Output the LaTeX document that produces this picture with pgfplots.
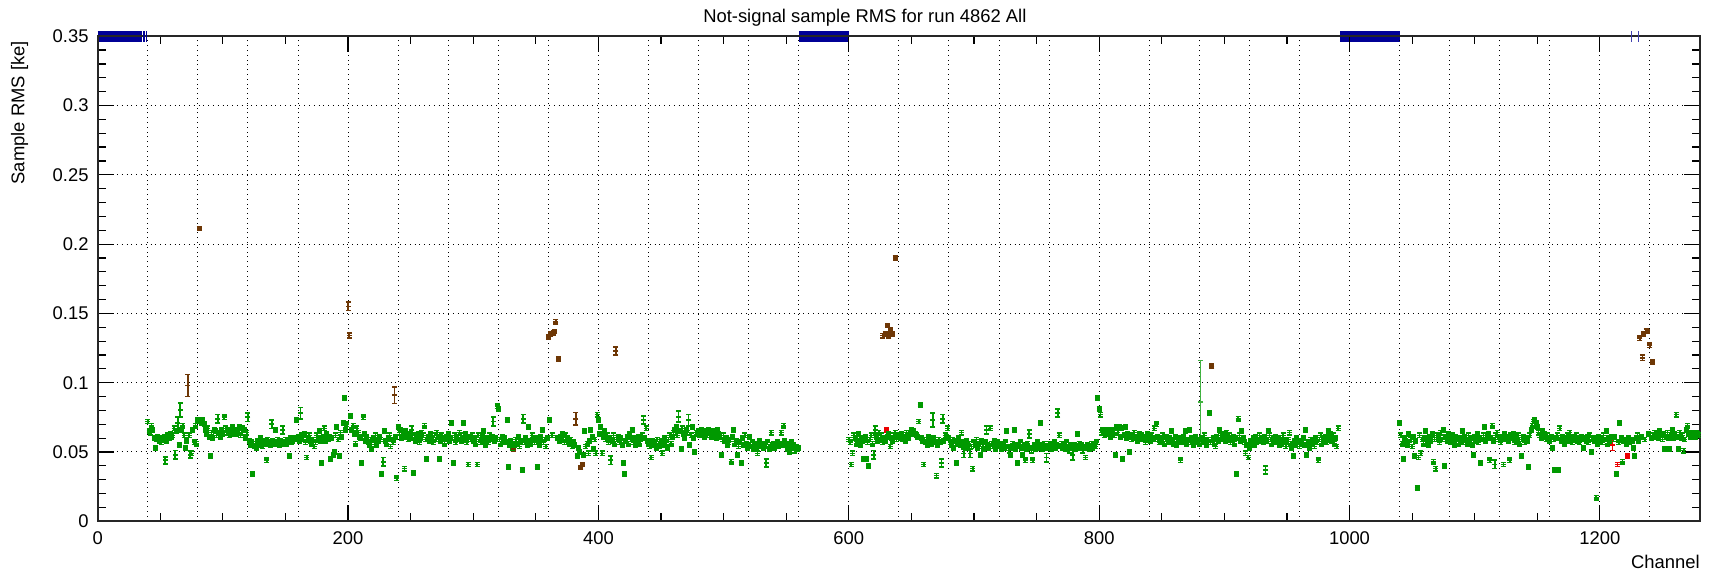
\documentclass[border=0pt]{standalone}
\usepackage{pgfplots}
\pgfplotsset{compat=1.18}
\usepackage{pgfplotstable}
\usetikzlibrary{plotmarks}
\usepackage{fontspec}
\setmainfont{Liberation Sans}

\definecolor{rootgreen}{RGB}{0,153,0}
\definecolor{rootbrown}{RGB}{110,55,5}
\definecolor{rootblue}{RGB}{0,0,150}
\definecolor{rootred}{RGB}{235,0,0}

% ROOT-like point: small error bar with end caps and centre tick, drawn as one mark
\pgfdeclareplotmark{rootI}{%
  \pgfpathmoveto{\pgfqpoint{0pt}{-1.05pt}}\pgfpathlineto{\pgfqpoint{0pt}{1.05pt}}%
  \pgfpathmoveto{\pgfqpoint{-1.25pt}{-1.05pt}}\pgfpathlineto{\pgfqpoint{1.25pt}{-1.05pt}}%
  \pgfpathmoveto{\pgfqpoint{-1.25pt}{1.05pt}}\pgfpathlineto{\pgfqpoint{1.25pt}{1.05pt}}%
  \pgfpathmoveto{\pgfqpoint{-1.25pt}{0pt}}\pgfpathlineto{\pgfqpoint{1.25pt}{0pt}}%
  \pgfusepathqstroke}
% flagged channel drawn at the top edge
\pgfdeclareplotmark{vbar}{%
  \pgfpathmoveto{\pgfqpoint{0pt}{-2.7pt}}\pgfpathlineto{\pgfqpoint{0pt}{2.7pt}}%
  \pgfusepathqstroke}

% sample RMS per channel, channels 40..560
\pgfplotstableread[row sep=\\, header=false]{
0.072\\0.065\\0.064\\0.069\\0.066\\0.060\\0.053\\0.059\\0.061\\0.058\\
0.060\\0.057\\0.059\\0.061\\nan\\0.058\\0.062\\0.060\\0.063\\0.061\\
0.062\\0.067\\nan\\0.065\\nan\\0.055\\nan\\0.066\\0.069\\0.062\\
0.053\\0.058\\nan\\0.062\\nan\\0.049\\0.066\\0.057\\0.069\\0.056\\
0.073\\nan\\0.072\\0.071\\0.073\\0.070\\0.066\\0.063\\0.067\\0.061\\
0.047\\0.064\\0.060\\0.066\\0.065\\0.062\\nan\\0.064\\0.061\\0.066\\
0.063\\0.075\\0.067\\0.064\\0.066\\0.062\\0.065\\0.063\\0.068\\0.064\\
0.066\\0.063\\0.065\\0.068\\0.062\\0.064\\0.067\\0.066\\0.060\\0.064\\
nan\\0.058\\0.055\\0.057\\0.034\\0.054\\0.056\\0.053\\0.058\\0.055\\
0.060\\0.057\\0.054\\0.058\\0.056\\0.044\\0.059\\0.057\\0.055\\nan\\
0.058\\0.056\\0.066\\0.057\\0.059\\0.055\\0.058\\0.056\\nan\\0.057\\
0.059\\0.056\\0.058\\0.047\\0.060\\0.057\\0.058\\0.060\\0.059\\0.073\\
0.061\\0.058\\nan\\0.062\\0.059\\0.063\\0.057\\0.046\\0.060\\0.062\\
0.058\\0.056\\0.059\\0.054\\0.057\\0.062\\0.060\\0.065\\0.058\\0.042\\
0.061\\0.067\\0.058\\0.063\\0.059\\0.061\\0.045\\0.060\\0.048\\0.050\\
0.062\\0.068\\0.059\\0.047\\0.064\\0.061\\0.071\\0.089\\0.066\\0.070\\
nan\\nan\\0.076\\0.066\\0.069\\0.063\\0.056\\0.067\\0.064\\0.061\\
0.060\\0.042\\0.075\\0.063\\0.058\\0.061\\0.057\\0.055\\0.059\\0.052\\
0.060\\0.057\\0.062\\0.055\\0.058\\0.061\\0.059\\0.034\\nan\\0.065\\
0.058\\0.056\\0.060\\0.062\\0.054\\0.059\\0.057\\nan\\0.061\\0.031\\
0.068\\0.064\\0.066\\0.060\\0.062\\0.038\\0.065\\0.061\\0.059\\0.063\\
0.060\\nan\\0.035\\0.062\\0.058\\0.061\\0.063\\0.057\\0.060\\0.064\\
0.062\\0.069\\0.059\\0.045\\0.061\\0.058\\0.063\\0.060\\0.057\\0.062\\
0.059\\0.064\\0.061\\0.045\\0.058\\0.062\\0.060\\0.056\\0.059\\0.061\\
0.063\\0.058\\0.060\\0.071\\0.042\\0.062\\0.057\\0.061\\0.059\\0.064\\
0.062\\0.058\\0.071\\0.060\\0.063\\0.057\\0.041\\0.061\\0.059\\0.062\\
0.058\\0.060\\0.056\\0.041\\0.062\\0.059\\0.057\\0.061\\0.065\\0.058\\
0.055\\0.060\\0.057\\0.062\\0.059\\0.061\\nan\\0.058\\0.060\\0.083\\
0.081\\0.059\\0.056\\0.061\\0.058\\0.060\\0.057\\0.073\\0.039\\0.055\\
0.058\\0.053\\nan\\0.055\\0.059\\0.056\\0.061\\0.054\\0.058\\0.037\\
nan\\0.057\\0.060\\0.055\\0.068\\0.058\\0.056\\0.062\\0.059\\0.057\\
0.060\\0.039\\0.058\\0.055\\0.061\\0.066\\0.057\\0.059\\0.054\\0.060\\
nan\\0.073\\nan\\0.062\\nan\\nan\\nan\\0.060\\nan\\0.058\\
0.061\\0.063\\0.059\\0.057\\0.062\\0.060\\0.058\\0.056\\0.059\\0.054\\
0.057\\0.055\\nan\\0.047\\0.053\\0.050\\nan\\nan\\0.048\\0.065\\
0.054\\0.056\\0.049\\0.058\\0.066\\0.061\\0.052\\0.059\\0.049\\0.077\\
0.073\\0.063\\0.068\\0.049\\0.061\\0.065\\0.059\\0.062\\0.057\\0.060\\
nan\\0.058\\0.062\\0.056\\nan\\0.059\\0.061\\0.057\\0.060\\0.055\\
0.042\\0.034\\0.058\\0.061\\0.056\\0.063\\0.059\\0.066\\0.057\\0.060\\
0.055\\0.058\\0.061\\0.056\\0.059\\0.062\\nan\\0.060\\0.067\\0.058\\
0.056\\0.054\\0.046\\0.058\\0.055\\0.057\\0.053\\0.059\\0.056\\0.054\\
0.058\\0.049\\0.055\\0.060\\0.057\\0.053\\0.059\\0.062\\0.056\\0.061\\
0.064\\0.066\\0.068\\0.062\\nan\\0.065\\0.052\\0.067\\0.063\\0.060\\
0.066\\0.064\\nan\\0.055\\0.062\\0.068\\0.060\\0.050\\0.064\\0.063\\
0.065\\0.062\\0.066\\0.063\\0.064\\0.061\\0.065\\0.062\\0.066\\0.064\\
0.061\\0.063\\0.065\\0.062\\0.060\\0.066\\0.063\\0.061\\0.048\\0.059\\
0.062\\0.058\\0.060\\0.055\\0.057\\0.059\\0.043\\0.061\\0.066\\0.056\\
0.058\\0.048\\0.054\\0.057\\0.042\\0.060\\0.055\\0.062\\0.056\\0.053\\
0.055\\0.061\\0.054\\0.057\\0.052\\0.056\\0.053\\0.049\\0.055\\0.058\\
0.054\\0.056\\0.053\\0.055\\nan\\0.057\\0.054\\0.052\\0.064\\0.055\\
0.056\\0.053\\0.055\\0.057\\0.054\\0.056\\0.064\\0.055\\0.069\\0.058\\
0.056\\0.052\\0.055\\0.050\\0.057\\0.053\\0.055\\0.051\\0.054\\0.052\\
0.053\\}\segA

% channels 600..991
\pgfplotstableread[row sep=\\, header=false]{
0.059\\0.057\\0.041\\0.049\\0.062\\0.060\\0.056\\0.058\\0.063\\0.055\\
0.060\\0.058\\0.045\\0.061\\0.045\\0.057\\0.040\\0.059\\0.062\\0.056\\
nan\\nan\\0.061\\0.058\\0.064\\0.059\\0.062\\0.057\\0.060\\0.058\\
nan\\0.061\\0.063\\0.054\\0.060\\0.058\\0.062\\0.064\\0.059\\0.061\\
0.062\\0.060\\0.063\\0.059\\0.061\\0.058\\0.064\\0.062\\0.060\\0.063\\
0.066\\0.064\\0.065\\0.063\\0.062\\0.061\\0.072\\0.084\\0.060\\0.058\\
0.041\\0.057\\0.059\\0.055\\0.061\\0.058\\0.056\\nan\\0.060\\0.057\\
0.033\\0.055\\0.059\\0.057\\nan\\nan\\0.058\\0.062\\0.061\\0.067\\
0.060\\0.057\\0.055\\0.059\\0.053\\0.058\\0.042\\0.056\\0.060\\0.055\\
0.064\\0.057\\nan\\0.055\\0.058\\0.053\\0.056\\nan\\0.054\\0.038\\
0.057\\0.055\\0.059\\0.053\\0.056\\0.048\\0.058\\0.054\\0.052\\0.057\\
nan\\0.055\\0.053\\0.067\\0.056\\0.054\\0.058\\0.052\\0.055\\0.057\\
0.054\\0.056\\0.052\\0.055\\0.053\\0.057\\0.065\\0.054\\0.051\\0.048\\
0.053\\0.056\\0.066\\0.052\\0.055\\0.042\\0.054\\0.057\\0.053\\0.048\\
0.055\\0.044\\0.052\\0.056\\nan\\0.053\\0.051\\0.044\\0.055\\0.052\\
0.054\\0.057\\0.053\\0.071\\0.055\\0.052\\0.056\\0.054\\nan\\0.053\\
0.056\\0.054\\0.052\\0.055\\0.057\\0.053\\0.055\\nan\\0.062\\0.054\\
0.056\\0.053\\0.055\\0.052\\0.057\\0.054\\0.051\\0.055\\0.053\\nan\\
0.055\\0.052\\0.054\\0.063\\0.056\\0.053\\0.055\\0.051\\0.054\\0.046\\
0.053\\0.055\\0.052\\0.054\\0.056\\0.053\\0.055\\0.054\\0.057\\0.089\\
0.081\\0.077\\0.064\\0.066\\0.062\\0.065\\0.063\\0.066\\0.064\\0.061\\
0.063\\0.066\\0.062\\0.048\\0.068\\0.064\\0.068\\0.061\\0.067\\0.045\\
0.062\\0.068\\0.060\\0.063\\0.050\\0.061\\0.059\\0.062\\0.064\\0.060\\
0.061\\0.058\\0.063\\0.060\\0.062\\0.059\\0.061\\0.057\\0.060\\0.063\\
0.061\\0.058\\0.062\\0.060\\0.067\\0.059\\0.070\\0.061\\0.057\\0.060\\
0.058\\0.062\\0.056\\0.059\\0.061\\0.057\\0.060\\0.058\\0.065\\0.056\\
0.059\\0.061\\0.055\\0.058\\0.060\\0.044\\0.057\\0.061\\0.058\\0.065\\
0.056\\0.059\\0.066\\0.057\\0.060\\0.055\\0.058\\0.061\\0.057\\0.059\\
0.056\\nan\\0.060\\0.057\\0.062\\0.058\\0.055\\0.059\\0.078\\0.057\\
nan\\0.060\\0.056\\0.054\\0.061\\0.058\\0.066\\0.062\\0.059\\0.063\\
0.061\\0.058\\0.064\\0.060\\0.062\\0.057\\0.059\\0.061\\0.056\\0.060\\
0.034\\0.074\\0.062\\0.058\\0.065\\0.060\\0.057\\0.049\\0.055\\0.046\\
0.053\\0.058\\0.056\\0.060\\0.055\\0.061\\0.057\\0.059\\0.062\\0.058\\
0.060\\0.057\\0.061\\nan\\0.058\\0.065\\0.062\\0.059\\0.056\\0.060\\
0.058\\0.061\\0.057\\0.060\\0.055\\0.059\\0.056\\0.062\\0.058\\0.054\\
0.057\\0.059\\0.064\\0.056\\0.053\\0.047\\0.058\\0.055\\0.060\\0.057\\
0.054\\0.058\\0.056\\0.060\\0.055\\0.066\\0.048\\0.057\\0.053\\0.059\\
0.056\\0.058\\0.054\\0.060\\0.057\\0.044\\0.059\\0.062\\0.056\\0.060\\
0.058\\0.061\\0.057\\0.065\\0.060\\0.063\\0.058\\0.062\\0.056\\0.060\\
0.054\\0.067\\}\segB

% channels 1040..1279
\pgfplotstableread[row sep=\\, header=false]{
0.071\\0.062\\0.056\\0.045\\0.060\\0.058\\0.055\\0.063\\0.057\\0.059\\
0.054\\0.061\\0.047\\0.058\\0.024\\0.046\\0.062\\0.049\\0.059\\0.056\\
0.060\\0.065\\0.057\\0.055\\0.061\\0.058\\0.063\\0.043\\0.059\\0.038\\
0.062\\0.060\\0.057\\0.064\\0.059\\0.066\\0.040\\0.061\\0.058\\0.063\\
0.060\\0.057\\0.062\\0.058\\0.055\\0.061\\0.059\\0.056\\0.060\\0.058\\
0.065\\0.057\\0.061\\0.059\\0.056\\0.062\\0.058\\0.060\\0.055\\0.048\\
0.061\\0.058\\0.063\\0.057\\0.060\\0.042\\0.059\\0.062\\0.068\\0.058\\
0.061\\0.063\\0.044\\0.060\\0.069\\0.058\\nan\\0.062\\0.064\\0.059\\
0.061\\0.057\\0.060\\0.041\\0.063\\0.059\\0.061\\0.058\\0.044\\0.062\\
0.060\\0.063\\0.057\\0.061\\0.058\\0.062\\0.056\\0.047\\0.059\\0.061\\
0.057\\0.060\\0.058\\0.039\\0.062\\0.066\\0.069\\0.072\\0.073\\0.071\\
0.068\\0.064\\0.062\\0.060\\0.065\\0.061\\0.063\\0.059\\0.062\\0.060\\
0.058\\0.061\\0.053\\0.059\\0.037\\0.060\\0.062\\0.037\\0.067\\0.058\\
0.061\\0.059\\0.056\\0.060\\0.062\\0.058\\0.064\\0.060\\0.057\\0.061\\
0.059\\0.062\\0.058\\0.060\\0.057\\0.061\\0.059\\0.053\\0.060\\0.058\\
0.061\\0.057\\0.062\\0.050\\0.059\\0.060\\0.058\\0.017\\0.056\\0.061\\
0.058\\0.060\\0.057\\0.062\\0.059\\0.065\\0.056\\0.060\\0.058\\0.061\\
nan\\0.059\\0.061\\0.034\\nan\\0.057\\0.071\\0.060\\0.043\\0.058\\
0.059\\0.056\\nan\\0.060\\0.057\\0.059\\0.058\\0.053\\0.047\\0.060\\
0.062\\0.058\\nan\\0.061\\nan\\nan\\0.059\\nan\\nan\\0.063\\
nan\\0.060\\nan\\0.062\\0.064\\0.061\\0.063\\0.060\\0.065\\0.062\\
0.059\\0.063\\0.052\\0.061\\0.064\\0.060\\0.052\\0.062\\0.066\\0.060\\
0.063\\0.077\\0.061\\0.052\\0.064\\0.060\\0.062\\0.051\\0.059\\0.066\\
0.069\\0.063\\0.061\\0.064\\0.062\\0.063\\0.061\\0.064\\0.063\\0.062\\
}\segC

\pgfplotsset{
  rootpts/.style={only marks, mark=rootI, mark options={line width=0.85pt}},
  rooterr/.style={only marks, mark=-, mark size=1.25pt, mark options={line width=0.85pt},
    error bars/.cd, y dir=both, y explicit, error mark=-,
    error mark options={rotate=90, mark size=1.25pt, line width=0.85pt},
    error bar style={line width=0.85pt}},
}

\begin{document}
\begin{tikzpicture}[font=\fontsize{9.2pt}{11pt}\selectfont]
\begin{axis}[
  at={(0,0)}, anchor=south west,
  scale only axis, width=801pt, height=242.5pt,
  set layers, clip=false,
  xmin=0, xmax=1280, ymin=0, ymax=0.35,
  xtick={0,200,400,600,800,1000,1200},
  xticklabels={0,200,400,600,800,1000,1200},
  minor x tick num=3,
  ytick={0,0.05,0.1,0.15,0.2,0.25,0.3,0.35},
  yticklabels={0,0.05,0.1,0.15,0.2,0.25,0.3,0.35},
  minor y tick num=4,
  tick align=inside,
  major tick length=8pt, minor tick length=4pt,
  ymajorgrids,
  extra x ticks={40,80,...,1240},
  extra x tick labels={},
  extra x tick style={grid=major, major tick length=0pt},
  grid style={black, dotted, line width=0.5pt},
  axis line style={black!85, line width=0.9pt},
  tick style={black, line width=0.6pt},
  tick label style={font=\fontsize{9.2pt}{11pt}\selectfont},
  xticklabel style={inner sep=0pt, anchor=north, yshift=-5.2pt},
  yticklabel style={inner sep=0pt, anchor=east, xshift=-4.4pt},
]
% flagged channels at the top edge
\addplot[on layer=axis background, rootblue, line width=5.4pt, line cap=butt] coordinates {(0,0.35) (35.5,0.35)};
\addplot[on layer=axis background, rootblue, line width=5.4pt, line cap=butt] coordinates {(560.5,0.35) (600.5,0.35)};
\addplot[on layer=axis background, rootblue, line width=5.4pt, line cap=butt] coordinates {(992.5,0.35) (1040.5,0.35)};
\addplot[on layer=axis background, rootblue, only marks, mark=vbar, mark options={line width=0.9pt}]
  coordinates {(37,0.35) (39,0.35)};
\addplot[on layer=axis background, rootblue!75!white, only marks, mark=vbar, mark options={line width=0.6pt}]
  coordinates {(1225,0.35) (1231,0.35)};

% good channels
\addplot[rootgreen, rootpts] table[x expr=\coordindex+40, y index=0] {\segA};
\addplot[rootgreen, rootpts] table[x expr=\coordindex+600, y index=0] {\segB};
\addplot[rootgreen, rootpts] table[x expr=\coordindex+1040, y index=0] {\segC};
\addplot[rootgreen, rooterr] table[x=x, y=y, y error=e] {
x y e
54 0.044 0.0025
62 0.048 0.003
64 0.071 0.004
66 0.0805 0.005
74 0.048 0.0025
96 0.074 0.003
120 0.075 0.003
139 0.070 0.003
148 0.066 0.003
162 0.078 0.004
228 0.043 0.003
251 0.066 0.003
316 0.072 0.003
340 0.074 0.003
410 0.044 0.003
436 0.073 0.003
464 0.0755 0.004
472 0.073 0.004
534 0.042 0.003
620 0.048 0.003
621 0.066 0.003
667 0.073 0.005
674 0.042 0.003
675 0.074 0.003
692 0.049 0.003
697 0.049 0.003
710 0.066 0.003
744 0.063 0.003
758 0.046 0.003
767 0.078 0.003
779 0.048 0.004
933 0.037 0.003
1116 0.041 0.003
};
\addplot[rootgreen!75!white, rooterr, error bar style={line width=0.6pt}] table[x=x, y=y, y error=e] {
x y e
881 0.086 0.030
};

% noisy channels
\addplot[rootbrown, rooterr] table[x=x, y=y, y error=e] {
x y e
72 0.098 0.008
81 0.211 0.0012
200 0.155 0.003
201 0.134 0.002
237 0.091 0.006
332 0.052 0.0012
360 0.133 0.0015
362 0.135 0.0015
364 0.136 0.0015
365 0.137 0.0012
366 0.144 0.0015
368 0.117 0.0015
382 0.074 0.0045
386 0.039 0.0012
387 0.041 0.0012
414 0.123 0.003
627 0.134 0.0015
629 0.135 0.0015
631 0.141 0.0012
632 0.134 0.0015
633 0.138 0.0015
635 0.135 0.0015
637 0.190 0.0015
890 0.112 0.0015
1232 0.132 0.0015
1234 0.118 0.002
1235 0.135 0.0015
1237 0.137 0.0015
1238 0.137 0.0012
1240 0.127 0.0015
1242 0.115 0.0015
};

% low channels
\addplot[rootred, rooterr] table[x=x, y=y, y error=e] {
x y e
630 0.066 0.0015
1210 0.055 0.004
1214 0.041 0.0015
1222 0.047 0.0015
};
\end{axis}
\node[anchor=base] at (383.5pt,249.3pt) {Not-signal sample RMS for run 4862 All};
\node[rotate=90, anchor=east] at (-39pt,243.5pt) {Sample RMS [ke]};
\node[anchor=east, inner sep=0pt] at (801pt,-20.2pt) {Channel};
\pgfresetboundingbox
\path[use as bounding box] (-48.85pt,-26.35pt) rectangle (809.5pt,260.6pt);
\end{tikzpicture}
\end{document}
